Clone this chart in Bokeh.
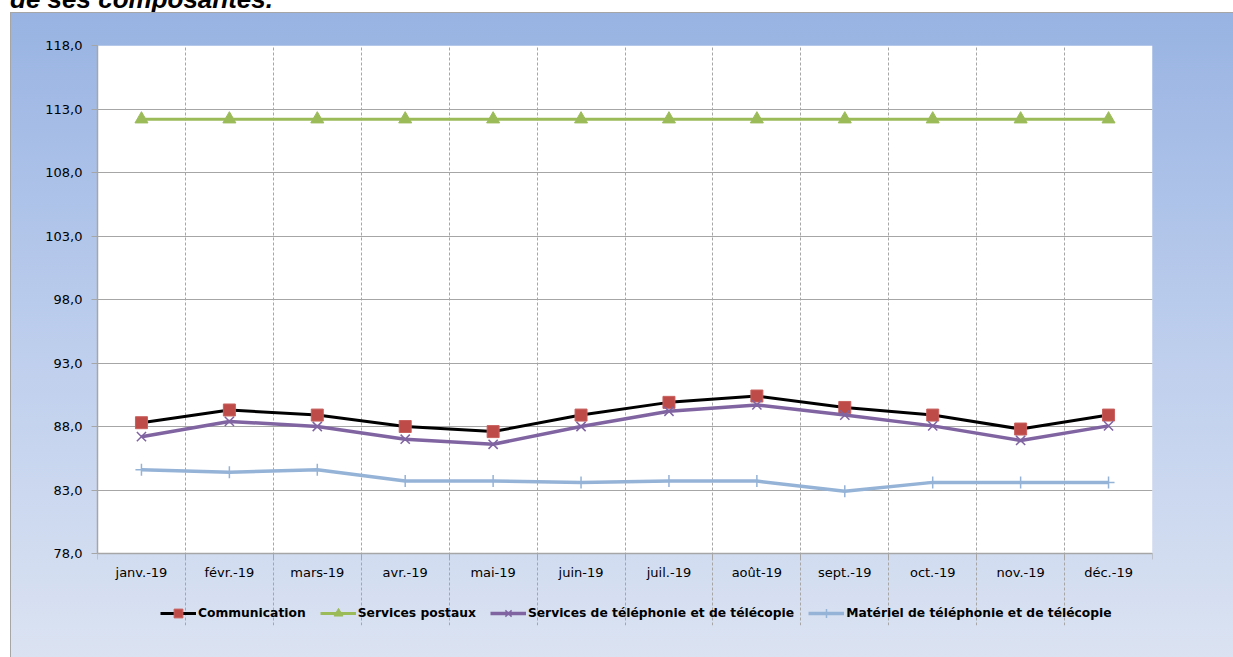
from bokeh.plotting import figure
from bokeh.models import (Range1d, FixedTicker, Legend, LegendItem, Div, Spacer, BoxAnnotation)
from bokeh.layouts import column, row
from bokeh.embed import file_html
from bokeh.resources import INLINE

months = ["janv.-19", "févr.-19", "mars-19", "avr.-19", "mai-19", "juin-19",
          "juil.-19", "août-19", "sept.-19", "oct.-19", "nov.-19", "déc.-19"]
communication = [88.3, 89.3, 88.9, 88.0, 87.6, 88.9, 89.9, 90.4, 89.5, 88.9, 87.8, 88.9]
services_postaux = [112.2, 112.2, 112.2, 112.2, 112.2, 112.2, 112.2, 112.2, 112.2, 112.2, 112.2, 112.2]
services_tel = [87.2, 88.4, 88.0, 87.0, 86.6, 88.0, 89.2, 89.7, 88.9, 88.05, 86.9, 88.05]
materiel_tel = [84.6, 84.4, 84.6, 83.7, 83.7, 83.6, 83.7, 83.7, 82.9, 83.6, 83.6, 83.6]
y_ticks = [78, 83, 88, 93, 98, 103, 108, 113, 118]
series_names = ["Communication", "Services postaux",
                "Services de téléphonie et de télécopie",
                "Matériel de téléphonie et de télécopie"]
title_text = "de ses composantes."

x = [i + 0.5 for i in range(len(months))]
y_lo, y_hi = y_ticks[0], y_ticks[-1]
GRID = "#A6A6A6"
FONT = "DejaVu Sans"

# The frame extends below the value axis so the legend can sit inside it.
PLOT_H, FRAME_H = 508, 580
y_start = y_lo - (FRAME_H - PLOT_H) * (y_hi - y_lo) / PLOT_H

p = figure(frame_width=1055, frame_height=FRAME_H,
           x_range=Range1d(0, len(months)), y_range=Range1d(y_start, y_hi),
           output_backend="svg", toolbar_location=None,
           min_border_left=87, min_border_top=33, min_border_right=81, min_border_bottom=32)
p.margin = 0
p.border_fill_color = None
p.background_fill_color = None
p.outline_line_color = None
p.styles = {"background": "linear-gradient(to bottom, #98B3E2 0%, #B9CBEC 45%, #DBE3F2 100%)",
            "box-shadow": "inset 1px 1px 0 #A6A6A6"}

plot_area = BoxAnnotation(left=0, right=len(months), bottom=y_lo, top=y_hi,
                          fill_color="white", fill_alpha=1, line_color=None, level="image")
p.add_layout(plot_area)

# axes
xa = p.xaxis[0]
xa.fixed_location = y_lo
xa.ticker = FixedTicker(ticks=x, minor_ticks=list(range(len(months) + 1)))
xa.major_label_overrides = {xv: m for xv, m in zip(x, months)}
xa.major_tick_out = 0
xa.major_tick_in = 0
xa.minor_tick_out = 6
xa.minor_tick_in = 0
xa.minor_tick_line_color = GRID
xa.axis_line_color = GRID
xa.axis_line_width = 1.5
xa.major_label_text_font = FONT
xa.major_label_text_font_size = "13px"
xa.major_label_text_color = "#000000"
xa.major_label_standoff = 5

ya = p.yaxis[0]
ya.bounds = (y_lo, y_hi)
ya.ticker = FixedTicker(ticks=y_ticks)
ya.major_label_overrides = {t: f"{t:.1f}".replace(".", ",") for t in y_ticks}
ya.major_tick_out = 6
ya.major_tick_in = 0
ya.minor_tick_out = 0
ya.minor_tick_in = 0
ya.major_tick_line_color = GRID
ya.axis_line_color = GRID
ya.axis_line_width = 1.5
ya.major_label_text_font = FONT
ya.major_label_text_font_size = "13px"
ya.major_label_text_color = "#000000"
ya.major_label_standoff = 9

p.xgrid.grid_line_color = None
p.xgrid.minor_grid_line_color = GRID
p.xgrid.minor_grid_line_dash = "3 2"
p.xgrid.bounds = (y_lo, y_hi)
p.ygrid.grid_line_color = GRID
p.ygrid.grid_line_width = 1

# series
l1 = p.line(x, communication, line_color="black", line_width=3)
s1 = p.scatter(x, communication, marker="square", size=12, fill_color="#BE4B48", line_color="#C9615E")
l2 = p.line(x, services_postaux, line_color="#9BBB59", line_width=3)
s2 = p.scatter(x, services_postaux, marker="triangle", size=13, fill_color="#9BBB59", line_color="#9BBB59")
l3 = p.line(x, services_tel, line_color="#8064A2", line_width=3.5)
s3 = p.scatter(x, services_tel, marker="x", size=13, line_color="#8064A2", line_width=1.5)
l4 = p.line(x, materiel_tel, line_color="#95B3D7", line_width=3.5)
s4 = p.scatter(x, materiel_tel, marker="cross", size=12, line_color="#95B3D7", line_width=1.5)

legend = Legend(items=[LegendItem(label=series_names[0], renderers=[l1, s1]),
                       LegendItem(label=series_names[1], renderers=[l2, s2]),
                       LegendItem(label=series_names[2], renderers=[l3, s3]),
                       LegendItem(label=series_names[3], renderers=[l4, s4])],
                orientation="horizontal", location=(63, 1))
legend.background_fill_alpha = 0
legend.border_line_color = None
legend.padding = 0
legend.margin = 0
legend.spacing = 14
legend.glyph_width = 36
legend.glyph_height = 22
legend.label_standoff = 2
legend.label_text_font = FONT
legend.label_text_font_style = "bold"
legend.label_text_font_size = "12.3px"
legend.label_text_color = "#000000"
p.add_layout(legend, "center")

title = Div(text=('<div style="position:relative; top:-14px; left:10px; white-space:nowrap; '
                  'font-family:\'Liberation Sans\'; font-weight:bold; font-style:italic; '
                  f'font-size:26px; line-height:26px; color:#000;">{title_text}</div>'),
            width=1233, height=12, margin=0, styles={"overflow": "hidden"})

sp = Spacer(width=10, height=645, margin=0)
layout = column(title, row(sp, p, margin=0), margin=0)
open("out.html", "w").write(file_html(layout, INLINE))
